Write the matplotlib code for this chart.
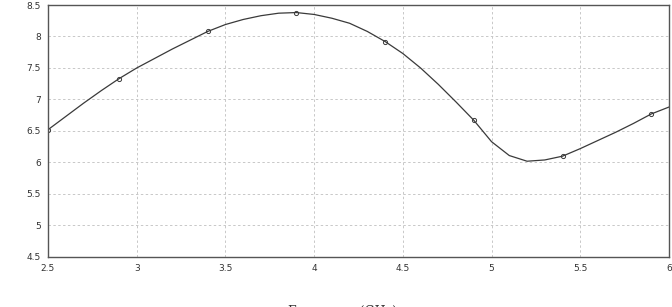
import numpy as np
import matplotlib
matplotlib.use("Agg")
import matplotlib.pyplot as plt

# ── Data ──────────────────────────────────────────────────────────────────────
freq = [2.5, 2.6, 2.7, 2.8, 2.9, 3.0, 3.1, 3.2, 3.3, 3.4, 3.5, 3.6, 3.7, 3.8,
        3.9, 4.0, 4.1, 4.2, 4.3, 4.4, 4.5, 4.6, 4.7, 4.8, 4.9, 5.0, 5.1, 5.2,
        5.3, 5.4, 5.5, 5.6, 5.7, 5.8, 5.9, 6.0]
value = [6.52, 6.73, 6.94, 7.14, 7.33, 7.50, 7.65, 7.80, 7.94, 8.08, 8.19,
         8.27, 8.33, 8.37, 8.38, 8.35, 8.29, 8.21, 8.08, 7.92, 7.73, 7.50,
         7.24, 6.96, 6.67, 6.33, 6.11, 6.02, 6.04, 6.10, 6.22, 6.35, 6.48,
         6.62, 6.77, 6.88]
marker_freq = [2.5, 2.9, 3.4, 3.9, 4.4, 4.9, 5.4, 5.9]

x_ticks = [2.5, 3, 3.5, 4, 4.5, 5, 5.5, 6]
y_ticks = [4.5, 5, 5.5, 6, 6.5, 7, 7.5, 8, 8.5]

# ── Plot ──────────────────────────────────────────────────────────────────────
fig = plt.figure(figsize=(6.72, 3.07), dpi=100)
ax = fig.add_axes([0.0714, 0.163, 0.9241, 0.8207])

ax.plot(freq, value, color="#3a3a3a", linewidth=0.9)
mk = [value[freq.index(f)] for f in marker_freq]
ax.plot(marker_freq, mk, linestyle="none", marker="o", markersize=3,
        markerfacecolor="none", markeredgecolor="#3a3a3a", markeredgewidth=0.7)

ax.set_xlim(2.5, 6)
ax.set_ylim(4.5, 8.5)
ax.set_xticks(x_ticks)
ax.set_xticklabels(["2.5", "3", "3.5", "4", "4.5", "5", "5.5", "6"])
ax.set_yticks(y_ticks)
ax.set_yticklabels(["4.5", "5", "5.5", "6", "6.5", "7", "7.5", "8", "8.5"])
ax.tick_params(length=0, labelsize=6.5, colors="#333333", pad=5)
ax.grid(True, color="#c8c8c8", linestyle=(0, (2.5, 2.5)), linewidth=0.7)
for s in ax.spines.values():
    s.set_color("#555555")
    s.set_linewidth(1.0)

fig.text(0.51, 0.005, "Frequency (GHz)", ha="center", va="top",
         family="DejaVu Serif", fontsize=9, color="#333333")

fig.savefig("out.png", dpi=100)
